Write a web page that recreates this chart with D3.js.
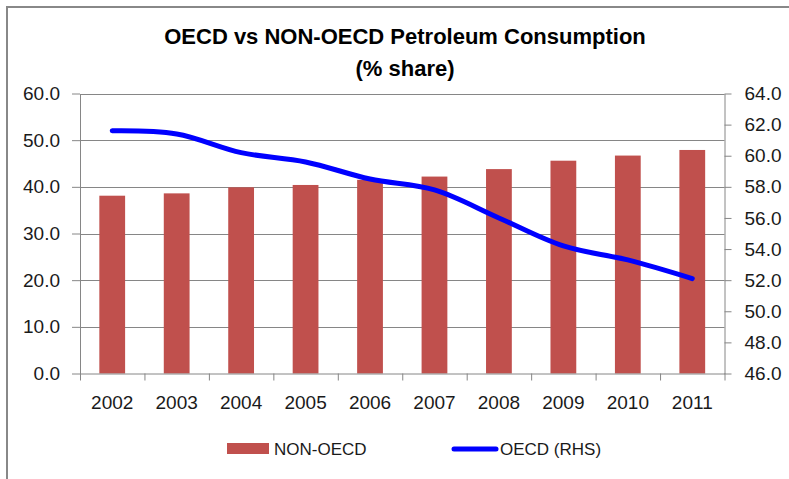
<!DOCTYPE html>
<html lang="en">
  <head>
    <meta charset="utf-8">
    <title>OECD vs NON-OECD</title>
    <script src="https://cdn.jsdelivr.net/npm/d3@7"></script>
    <style>
      body { margin: 0; background: #fff; }
      text { font-family: "Liberation Sans", Arial, sans-serif; }
    </style>
  </head>
  <body>
    <script>
      var years = ["2002", "2003", "2004", "2005", "2006", "2007", "2008", "2009", "2010", "2011"];
      var nonOecd = [38.1, 38.6, 39.9, 40.4, 41.5, 42.2, 43.8, 45.6, 46.7, 47.9];
      var oecd = [61.6, 61.4, 60.2, 59.6, 58.5, 57.8, 56.0, 54.2, 53.3, 52.1];
      var leftTicks = [0, 10, 20, 30, 40, 50, 60];
      var rightTicks = [46, 48, 50, 52, 54, 56, 58, 60, 62, 64];

      var w = 789, h = 479;
      // plot area edges ("top" is taken by window.top, so prefix them)
      var plotL = 80, plotR = 724.5, plotT = 93.5, plotB = 373.5;
      var grey = "#868686";

      var svg = d3.select("body").append("svg")
                  .attr("width", w)
                  .attr("height", h);

      // chart border (runs off right / bottom edge like the screenshot)
      svg.append("rect")
         .attr("x", 7).attr("y", 7)
         .attr("width", 820).attr("height", 520)
         .attr("fill", "none")
         .attr("stroke", "#888")
         .attr("stroke-width", 2);

      var xScale = d3.scaleBand().domain(years).range([plotL, plotR]);
      var xLin = d3.scaleLinear().domain([0, years.length]).range([plotL, plotR]);
      var yLeft = d3.scaleLinear().domain([0, 60]).range([plotB, plotT]);
      var yRight = d3.scaleLinear().domain([46, 64]).range([plotB, plotT]);

      // gridlines
      svg.append("g").selectAll("line")
         .data(leftTicks.slice(1))
         .enter().append("line")
         .attr("x1", plotL).attr("x2", plotR)
         .attr("y1", function(d) { return Math.round(yLeft(d)) + 0.5; })
         .attr("y2", function(d) { return Math.round(yLeft(d)) + 0.5; })
         .attr("stroke", grey);

      // bars
      var barW = xScale.bandwidth() / 2.5;
      svg.append("g").selectAll("rect")
         .data(nonOecd)
         .enter().append("rect")
         .attr("x", function(d, i) { return xScale(years[i]) + (xScale.bandwidth() - barW) / 2; })
         .attr("y", function(d) { return yLeft(d); })
         .attr("width", barW)
         .attr("height", function(d) { return plotB - yLeft(d); })
         .attr("fill", "#C0504D");

      function styleAxis(g) {
        g.attr("font-family", null);
        g.selectAll(".domain, .tick line").attr("stroke", grey);
        g.selectAll("text")
         .attr("font-size", "19px")
         .attr("fill", "#1a1a1a");
      }

      var axL = svg.append("g")
         .attr("transform", "translate(" + plotL + ",0)")
         .call(d3.axisLeft(yLeft).tickValues(leftTicks)
                 .tickFormat(d3.format(".1f")).tickSize(8).tickSizeOuter(0).tickPadding(12));
      styleAxis(axL);

      var axR = svg.append("g")
         .attr("transform", "translate(" + plotR + ",0)")
         .call(d3.axisRight(yRight).tickValues(rightTicks)
                 .tickFormat(d3.format(".1f")).tickSize(7).tickSizeOuter(0).tickPadding(13));
      styleAxis(axR);

      // x axis: tick marks at band edges, labels at band centres
      var axX = svg.append("g")
         .attr("transform", "translate(0," + plotB + ")")
         .call(d3.axisBottom(xLin).tickValues(d3.range(years.length + 1))
                 .tickFormat("").tickSize(7).tickSizeOuter(0));
      styleAxis(axX);

      var axXl = svg.append("g")
         .attr("transform", "translate(0," + plotB + ")")
         .call(d3.axisBottom(xScale).tickSize(0).tickPadding(22));
      axXl.select(".domain").remove();
      styleAxis(axXl);

      // OECD line on right axis (excel-style light smoothing)
      var line = d3.line()
         .x(function(d, i) { return xScale(years[i]) + xScale.bandwidth() / 2; })
         .y(function(d) { return yRight(d); })
         .curve(d3.curveCatmullRom.alpha(0.5));

      svg.append("path")
         .datum(oecd)
         .attr("d", line)
         .attr("fill", "none")
         .attr("stroke", "#0000FF")
         .attr("stroke-width", 5)
         .attr("stroke-linecap", "round")
         .attr("stroke-linejoin", "round");

      // title
      svg.append("text")
         .attr("x", 405).attr("y", 44)
         .attr("text-anchor", "middle")
         .attr("font-size", "22px")
         .attr("font-weight", "bold")
         .text("OECD vs NON-OECD Petroleum Consumption");
      svg.append("text")
         .attr("x", 405).attr("y", 76)
         .attr("text-anchor", "middle")
         .attr("font-size", "22px")
         .attr("font-weight", "bold")
         .text("(% share)");

      // legend
      var lg = svg.append("g");
      lg.append("rect")
        .attr("x", 227).attr("y", 443)
        .attr("width", 42).attr("height", 11)
        .attr("fill", "#C0504D");
      lg.append("text")
        .attr("x", 274).attr("y", 455)
        .attr("font-size", "17px")
        .attr("fill", "#1a1a1a")
        .text("NON-OECD");
      lg.append("line")
        .attr("x1", 454).attr("x2", 496)
        .attr("y1", 449).attr("y2", 449)
        .attr("stroke", "#0000FF")
        .attr("stroke-width", 5)
        .attr("stroke-linecap", "round");
      lg.append("text")
        .attr("x", 500).attr("y", 455)
        .attr("font-size", "17px")
        .attr("fill", "#1a1a1a")
        .text("OECD (RHS)");
    </script>
  </body>
</html>
